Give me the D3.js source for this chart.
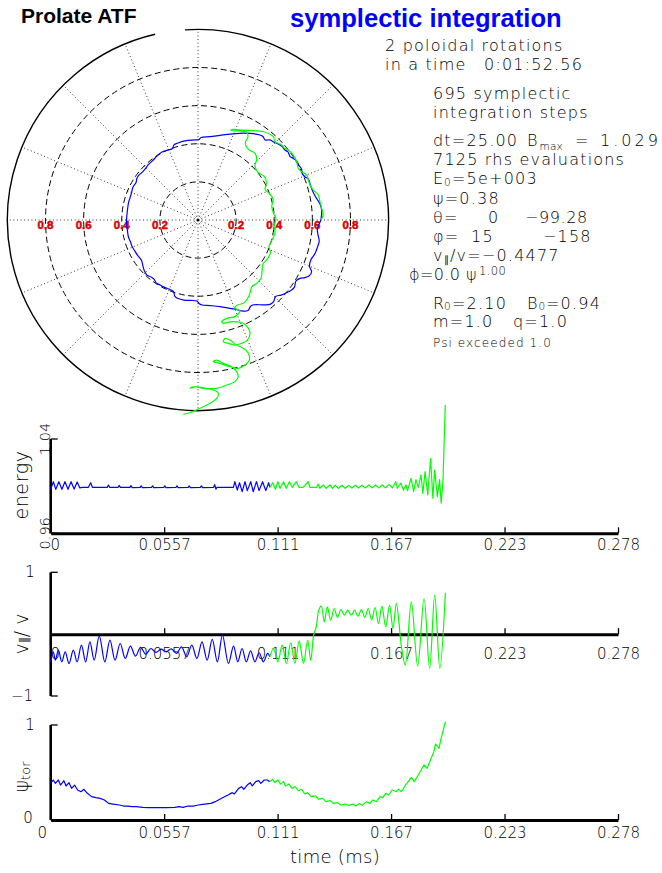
<!DOCTYPE html>
<html>
<head>
<meta charset="utf-8">
<script src="https://cdn.jsdelivr.net/npm/d3@7"></script>
<style>
  html, body { margin: 0; padding: 0; background: #fff; }
  svg { display: block; }
</style>
</head>
<body>
<svg id="chart" width="662" height="873"></svg>
<script>
// ---------- data ----------
const timeTicks = [0, 0.0557, 0.1114, 0.1671, 0.2228, 0.2785];
const timeTickLabels = ["0", "0.0557", "0.111", "0.167", "0.223", "0.278"];

// energy (normalised), [t (ms), E]
const energyBlue = [[0,0.9973],[0.0013,1.0038],[0.0025,0.9973],[0.0040,1.0038],[0.0055,0.9973],[0.0070,1.0038],[0.0085,0.9973],[0.0100,1.0038],[0.0115,0.9975],[0.0130,1.0035],[0.0143,0.9985],[0.0155,0.9990],[0.0185,0.9990],[0.0196,1.0029],[0.0205,0.9990],[0.0278,0.9990],[0.0283,1.0010],[0.0290,0.9990],[0.0331,0.9990],[0.0336,1.0006],[0.0342,0.9990],[0.0389,0.9990],[0.0394,1.0004],[0.0400,0.9988],[0.0439,0.9990],[0.0444,1.0003],[0.0450,0.9988],[0.0495,0.9990],[0.0500,1.0003],[0.0506,0.9988],[0.0555,0.9990],[0.0560,1.0002],[0.0566,0.9988],[0.0615,0.9990],[0.0620,1.0002],[0.0626,0.9988],[0.0675,0.9990],[0.0680,1.0002],[0.0686,0.9988],[0.0735,0.9990],[0.0740,1.0003],[0.0746,0.9988],[0.0800,0.9990],[0.0805,1.0013],[0.0811,0.9975],[0.0816,0.9990],[0.0897,0.9990],[0.0904,1.0038],[0.0916,0.9967],[0.0927,1.0029],[0.0940,0.9953],[0.0954,1.0038],[0.0965,0.9962],[0.0982,1.0038],[0.0994,0.9953],[0.1010,1.0038],[0.1023,0.9962],[0.1040,1.0038],[0.1056,0.9962],[0.1070,1.0029],[0.1076,0.9990]];
const energyGreen = [[0.1076,0.9990],[0.1090,1.0029],[0.1103,0.9973],[0.1115,1.0038],[0.1126,0.9982],[0.1143,1.0038],[0.1156,0.9982],[0.1172,1.0038],[0.1186,0.9990],[0.1206,1.0038],[0.1219,0.9990],[0.1239,0.9990],[0.1264,1.0038],[0.1272,0.9990],[0.1305,0.9990],[0.1313,1.0018],[0.1321,0.9982],[0.1338,1.0010],[0.1351,0.9982],[0.1371,1.0010],[0.1383,0.9982],[0.1396,1.0007],[0.1413,0.9982],[0.1429,1.0007],[0.1446,0.9982],[0.1462,1.0007],[0.1479,0.9985],[0.1495,1.0007],[0.1512,0.9985],[0.1528,1.0007],[0.1545,0.9985],[0.1562,1.0010],[0.1578,0.9985],[0.1595,1.0010],[0.1611,0.9985],[0.1628,1.0010],[0.1644,0.9985],[0.1661,1.0015],[0.1677,0.9985],[0.1694,1.0038],[0.1702,0.9982],[0.1719,1.0025],[0.1732,0.9967],[0.1744,1.0010],[0.1752,0.9962],[0.1769,1.0067],[0.1782,0.9953],[0.1793,1.0055],[0.1805,0.9990],[0.1818,1.0095],[0.1827,0.9939],[0.1838,1.0123],[0.1851,0.9925],[0.1865,1.0236],[0.1876,0.9897],[0.1885,1.0137],[0.1898,0.9911],[0.1909,1.0055],[0.1917,0.9855],[0.1926,1.0055],[0.1937,1.0689]];

// parallel velocity ratio v_par / v, [t (ms), value]
const vparBlue = [[0,-0.447],[0.00126,-0.285],[0.00230,-0.420],[0.00377,-0.258],[0.00544,-0.447],[0.00711,-0.285],[0.00900,-0.474],[0.01109,-0.258],[0.01297,-0.447],[0.01507,-0.178],[0.01716,-0.447],[0.01925,-0.124],[0.02134,-0.420],[0.02385,-0.032],[0.02657,-0.447],[0.02908,-0.097],[0.03159,-0.420],[0.03411,-0.151],[0.03662,-0.393],[0.03913,-0.194],[0.04164,-0.355],[0.04415,-0.215],[0.04666,-0.323],[0.04917,-0.232],[0.05168,-0.296],[0.05419,-0.242],[0.05670,-0.285],[0.05921,-0.237],[0.06173,-0.312],[0.06424,-0.205],[0.06675,-0.366],[0.06926,-0.178],[0.07177,-0.393],[0.07428,-0.124],[0.07679,-0.420],[0.07930,-0.086],[0.08181,-0.447],[0.08432,-0.016],[0.08725,-0.474],[0.08976,-0.194],[0.09186,-0.447],[0.09395,-0.232],[0.09604,-0.447],[0.09813,-0.269],[0.10023,-0.447],[0.10232,-0.301],[0.10441,-0.447],[0.10650,-0.312],[0.10755,-0.366]];
const vparGreen = [[0.10755,-0.366],[0.10943,-0.232],[0.11153,-0.447],[0.11362,-0.178],[0.11571,-0.474],[0.11780,-0.140],[0.11990,-0.474],[0.12199,-0.108],[0.12408,-0.474],[0.12617,-0.097],[0.12764,-0.420],[0.12910,-0.016],[0.13036,0.118],[0.13161,0.388],[0.13287,0.452],[0.13433,0.199],[0.13580,0.442],[0.13747,0.226],[0.13914,0.415],[0.14082,0.269],[0.14249,0.398],[0.14417,0.307],[0.14584,0.388],[0.14751,0.307],[0.14919,0.388],[0.15086,0.291],[0.15254,0.398],[0.15421,0.269],[0.15588,0.415],[0.15756,0.226],[0.15923,0.431],[0.16091,0.172],[0.16258,0.452],[0.16446,0.118],[0.16635,0.468],[0.16802,0.092],[0.16969,0.495],[0.17221,-0.205],[0.17409,-0.501],[0.17702,0.522],[0.18016,-0.517],[0.18329,0.576],[0.18601,-0.555],[0.18852,0.630],[0.19104,-0.555],[0.19376,0.668]];

// toroidal flux psi_tor, [t (ms), value]
const psiBlue = [[0,0.386],[0.00126,0.421],[0.00230,0.386],[0.00377,0.421],[0.00481,0.368],[0.00649,0.414],[0.00753,0.358],[0.00900,0.393],[0.01025,0.333],[0.01172,0.368],[0.01318,0.316],[0.01486,0.298],[0.01632,0.323],[0.01799,0.281],[0.02009,0.246],[0.02218,0.235],[0.02427,0.228],[0.02636,0.211],[0.02846,0.175],[0.03055,0.168],[0.03369,0.158],[0.03578,0.147],[0.03787,0.147],[0.03996,0.140],[0.04206,0.140],[0.04520,0.133],[0.04833,0.130],[0.05252,0.130],[0.05670,0.130],[0.06089,0.133],[0.06298,0.140],[0.06507,0.133],[0.06717,0.147],[0.07030,0.147],[0.07240,0.158],[0.07554,0.168],[0.07867,0.175],[0.08077,0.193],[0.08391,0.228],[0.08704,0.263],[0.08914,0.288],[0.09018,0.274],[0.09227,0.333],[0.09374,0.351],[0.09478,0.323],[0.09646,0.368],[0.09792,0.393],[0.09897,0.358],[0.10064,0.404],[0.10211,0.414],[0.10316,0.386],[0.10483,0.421],[0.10629,0.421],[0.10755,0.404]];
const psiGreen = [[0.10755,0.404],[0.10901,0.428],[0.11006,0.393],[0.11153,0.421],[0.11278,0.379],[0.11425,0.404],[0.11529,0.358],[0.11697,0.379],[0.11843,0.333],[0.11990,0.351],[0.12157,0.309],[0.12324,0.323],[0.12471,0.274],[0.12617,0.288],[0.12785,0.246],[0.12994,0.253],[0.13161,0.218],[0.13349,0.228],[0.13517,0.193],[0.13726,0.204],[0.13873,0.175],[0.14082,0.182],[0.14249,0.158],[0.14459,0.168],[0.14626,0.154],[0.14835,0.168],[0.14982,0.147],[0.15149,0.175],[0.15295,0.154],[0.15505,0.193],[0.15672,0.175],[0.15819,0.211],[0.15986,0.193],[0.16174,0.246],[0.16300,0.235],[0.16446,0.281],[0.16593,0.263],[0.16760,0.316],[0.16969,0.298],[0.17074,0.323],[0.17221,0.298],[0.17388,0.358],[0.17555,0.404],[0.17702,0.449],[0.17848,0.404],[0.18016,0.463],[0.18183,0.526],[0.18329,0.579],[0.18476,0.544],[0.18643,0.632],[0.18811,0.719],[0.18894,0.800],[0.19062,0.754],[0.19166,0.860],[0.19271,0.947],[0.19376,1.035]];

// orbit in the poloidal plane (normalised minor-radius coordinates), [x, y]
const orbitBlue = [[0.645,0.000],[0.649,0.052],[0.640,0.084],[0.624,0.110],[0.606,0.142],[0.597,0.163],[0.588,0.189],[0.579,0.215],[0.561,0.226],[0.548,0.241],[0.543,0.268],[0.530,0.286],[0.517,0.310],[0.498,0.324],[0.483,0.333],[0.472,0.357],[0.456,0.367],[0.441,0.386],[0.425,0.396],[0.395,0.411],[0.378,0.420],[0.352,0.420],[0.341,0.438],[0.325,0.446],[0.273,0.454],[0.220,0.455],[0.168,0.451],[0.115,0.444],[0.063,0.437],[0.016,0.433],[0.005,0.422],[-0.016,0.420],[-0.068,0.415],[-0.105,0.404],[-0.126,0.394],[-0.134,0.375],[-0.157,0.367],[-0.189,0.357],[-0.210,0.341],[-0.226,0.324],[-0.244,0.306],[-0.262,0.289],[-0.273,0.273],[-0.289,0.254],[-0.307,0.239],[-0.320,0.220],[-0.325,0.197],[-0.341,0.173],[-0.349,0.142],[-0.357,0.115],[-0.365,0.089],[-0.370,0.052],[-0.374,0.016],[-0.375,-0.021],[-0.370,-0.058],[-0.365,-0.089],[-0.354,-0.115],[-0.346,-0.139],[-0.331,-0.163],[-0.317,-0.186],[-0.296,-0.213],[-0.289,-0.241],[-0.281,-0.268],[-0.268,-0.289],[-0.247,-0.299],[-0.231,-0.310],[-0.218,-0.331],[-0.199,-0.341],[-0.178,-0.352],[-0.147,-0.365],[-0.129,-0.375],[-0.121,-0.401],[-0.105,-0.412],[-0.073,-0.420],[-0.037,-0.422],[-0.005,-0.425],[0.005,-0.438],[0.021,-0.446],[0.063,-0.449],[0.115,-0.454],[0.168,-0.464],[0.205,-0.470],[0.228,-0.477],[0.262,-0.475],[0.275,-0.454],[0.286,-0.446],[0.341,-0.445],[0.378,-0.443],[0.396,-0.430],[0.407,-0.401],[0.436,-0.394],[0.462,-0.383],[0.491,-0.367],[0.506,-0.352],[0.514,-0.320],[0.535,-0.306],[0.561,-0.302],[0.582,-0.294],[0.596,-0.273],[0.585,-0.241],[0.593,-0.207],[0.614,-0.176],[0.627,-0.142],[0.636,-0.110],[0.630,-0.079],[0.626,-0.047],[0.638,-0.016],[0.645,0.000]];
const orbitGreen = [[0.645,0.000],[0.657,0.026],[0.649,0.061],[0.640,0.096],[0.631,0.131],[0.605,0.157],[0.588,0.184],[0.579,0.210],[0.570,0.236],[0.544,0.253],[0.526,0.271],[0.518,0.306],[0.500,0.341],[0.474,0.367],[0.456,0.376],[0.439,0.394],[0.404,0.411],[0.395,0.437],[0.343,0.463],[0.273,0.470],[0.220,0.472],[0.184,0.475],[0.173,0.470],[0.210,0.467],[0.254,0.462],[0.262,0.436],[0.249,0.409],[0.254,0.383],[0.273,0.365],[0.299,0.350],[0.308,0.320],[0.299,0.283],[0.316,0.249],[0.349,0.228],[0.359,0.194],[0.352,0.160],[0.375,0.139],[0.394,0.108],[0.387,0.071],[0.396,0.037],[0.409,0.005],[0.399,-0.031],[0.404,-0.068],[0.388,-0.105],[0.373,-0.139],[0.380,-0.173],[0.362,-0.207],[0.341,-0.231],[0.336,-0.268],[0.331,-0.304],[0.310,-0.331],[0.283,-0.349],[0.275,-0.375],[0.265,-0.404],[0.238,-0.437],[0.206,-0.446],[0.194,-0.463],[0.220,-0.476],[0.194,-0.507],[0.151,-0.516],[0.124,-0.534],[0.133,-0.542],[0.168,-0.534],[0.203,-0.534],[0.238,-0.542],[0.264,-0.568],[0.273,-0.594],[0.259,-0.630],[0.229,-0.647],[0.194,-0.656],[0.159,-0.647],[0.133,-0.639],[0.142,-0.621],[0.168,-0.630],[0.203,-0.656],[0.238,-0.673],[0.264,-0.699],[0.269,-0.735],[0.247,-0.761],[0.211,-0.778],[0.168,-0.770],[0.115,-0.752],[0.080,-0.743],[0.098,-0.735],[0.133,-0.752],[0.177,-0.770],[0.203,-0.796],[0.211,-0.822],[0.194,-0.848],[0.151,-0.866],[0.098,-0.883],[0.046,-0.883],[-0.007,-0.875],[-0.042,-0.883],[-0.025,-0.875],[0.028,-0.883],[0.080,-0.892],[0.107,-0.909],[0.098,-0.936],[0.063,-0.962],[0.010,-0.988],[-0.042,-1.011],[-0.077,-1.019]];

const ringRadii = [0.2, 0.4, 0.6, 0.8];
const ringLabelValues = [-0.8, -0.6, -0.4, -0.2, 0.2, 0.4, 0.6, 0.8];
const spokeCount = 16;

// ---------- setup ----------
const svg = d3.select("#chart");
const thinFont = '"DejaVu Sans", "Liberation Sans", sans-serif';
const boldFont = '"Liberation Sans", Arial, Helvetica, sans-serif';
const BLUE = "#0000ff", GREEN = "#00ff00";

function label(x, y, str, size, opts = {}) {
  const t = svg.append("text")
    .attr("x", x).attr("y", y)
    .attr("font-family", opts.family || thinFont)
    .attr("font-weight", opts.weight || 300)
    .attr("font-size", size)
    .attr("fill", opts.fill || "#000")
    .attr("text-anchor", opts.anchor || "start")
    .text(str);
  if (opts.spacing !== undefined) t.attr("letter-spacing", opts.spacing);
  if (opts.baseline) t.attr("dominant-baseline", opts.baseline);
  return t;
}

// ---------- titles ----------
label(21, 23, "Prolate ATF", 21, { family: boldFont, weight: 700 });
label(290, 27, "symplectic integration", 25.6, { family: boldFont, weight: 700, fill: BLUE });

// ---------- info block ----------
const fs = 16, sp = 1.2, subFs = 10.5;
label(385, 51, "2 poloidal rotations", fs, { spacing: sp });
label(385, 69.5, "in a time", fs, { spacing: sp });
label(484, 69.5, "0:01:52.56", fs, { spacing: sp });
label(433, 98.5, "695 symplectic", fs, { spacing: sp });
label(433, 117.5, "integration steps", fs, { spacing: sp });
label(433, 146, "dt=25.00", fs, { spacing: sp });
label(527, 146, "B", fs);
label(539.5, 149.5, "max", subFs, { spacing: 0.2 });
label(575, 146, "=", fs);
label(600, 146, "1.029", fs, { spacing: 3 });
label(433, 165, "7125 rhs evaluations", fs, { spacing: sp });
label(433, 184, "E", fs);
label(444, 185.5, "0", subFs);
label(452, 184, "=5e+003", fs, { spacing: sp });
label(433, 203.5, "\u03c8=0.38", fs, { spacing: sp });
label(433, 223, "\u03b8=", fs, { spacing: sp });
label(488, 223, "0", fs, { spacing: sp });
label(525, 223, "\u221299.28", fs, { spacing: 0.6 });
label(433, 242, "\u03c6=", fs, { spacing: sp });
label(471, 242, "15", fs, { spacing: sp });
label(543, 242, "\u2212158", fs, { spacing: sp });
label(433, 261, "v", fs);
label(443.5, 263, "\u2225", subFs - 1);
label(450, 261, "/v=\u22120.4477", fs, { spacing: sp });
label(409, 280, "\u03d5=0.0", fs, { spacing: 0.4 });
label(466, 280, "\u03c8", fs);
label(479, 274.5, "1.00", subFs + 1, { spacing: 0.4 });
label(433, 308.5, "R", fs);
label(444, 310, "0", subFs);
label(452, 308.5, "=2.10", fs, { spacing: sp });
label(527, 308.5, "B", fs);
label(538.5, 310, "0", subFs);
label(546, 308.5, "=0.94", fs, { spacing: sp });
label(433, 327, "m=1.0", fs, { spacing: sp });
label(513, 327, "q=1.0", fs, { spacing: sp });
label(433, 347, "Psi exceeded 1.0", 12, { spacing: 1.1 });

// ---------- poloidal cross-section ----------
const cx = 198, cy = 220, R = 190.6;
const px = d3.scaleLinear().domain([-1, 1]).range([cx - R, cx + R]);
const py = d3.scaleLinear().domain([-1, 1]).range([cy + R, cy - R]);
const pr = d3.scaleLinear().domain([0, 1]).range([0, R]);

const polar = svg.append("g");
// radial spokes
d3.range(spokeCount).forEach(k => {
  const a = k * 2 * Math.PI / spokeCount;
  polar.append("line")
    .attr("x1", px(0)).attr("y1", py(0))
    .attr("x2", px(Math.cos(a))).attr("y2", py(Math.sin(a)))
    .attr("stroke", "#333").attr("stroke-width", 1)
    .attr("stroke-dasharray", "1,2.6");
});
// dashed flux rings
polar.selectAll("circle.ring").data(ringRadii).join("circle")
  .attr("class", "ring")
  .attr("cx", px(0)).attr("cy", py(0)).attr("r", d => pr(d))
  .attr("fill", "none").attr("stroke", "#000").attr("stroke-width", 1)
  .attr("stroke-dasharray", "6,3.5");
// outer boundary (open at the top)
const bnd = d3.path();
const a0 = -93.9 * Math.PI / 180, a1 = 257 * Math.PI / 180;
bnd.moveTo(cx + R * Math.cos(a0), cy + R * Math.sin(a0));
bnd.arc(cx, cy, R, a0, a1, false);
polar.append("path").attr("d", bnd.toString())
  .attr("fill", "none").attr("stroke", "#000").attr("stroke-width", 1.4);
// centre dot
polar.append("circle").attr("cx", px(0)).attr("cy", py(0)).attr("r", 1.6).attr("fill", "#000");
// radius labels
polar.selectAll("text.rl").data(ringLabelValues).join("text")
  .attr("class", "rl")
  .attr("x", d => px(d)).attr("y", py(0) + 8.5)
  .attr("text-anchor", "middle")
  .attr("font-family", boldFont).attr("font-weight", 700).attr("font-size", 11.5)
  .attr("fill", "#ff0000").attr("stroke", "#b00000").attr("stroke-width", 0.5)
  .text(d => Math.abs(d).toFixed(1));
// orbit
const orbitLine = d3.line().x(d => px(d[0])).y(d => py(d[1])).curve(d3.curveCatmullRom.alpha(0.5));
polar.append("path").attr("d", orbitLine(orbitBlue))
  .attr("fill", "none").attr("stroke", BLUE).attr("stroke-width", 1.2);
polar.append("path").attr("d", orbitLine(orbitGreen))
  .attr("fill", "none").attr("stroke", GREEN).attr("stroke-width", 1.2);

// ---------- time traces ----------
const x = d3.scaleLinear().domain([0, 0.2785]).range([50.7, 618]);

function timeAxis(yPos, pad, zeroShift) {
  const g = svg.append("g").attr("transform", `translate(0,${yPos})`)
    .call(d3.axisBottom(x).tickValues(timeTicks)
      .tickFormat((d, i) => timeTickLabels[i])
      .tickSizeInner(-6).tickSizeOuter(0).tickPadding(pad));
  g.select(".domain").attr("stroke", "#000").attr("stroke-width", 3);
  g.selectAll(".tick line").attr("stroke", "#000").attr("stroke-width", 1.3);
  g.selectAll(".tick text")
    .attr("font-family", thinFont).attr("font-weight", 300)
    .attr("font-size", 15).attr("fill", "#000");
  g.selectAll(".tick text").filter((d, i) => i === 0).attr("dx", zeroShift);
  return g;
}

function leftAxis(y, y0, y1) {
  svg.append("line").attr("x1", x(0)).attr("x2", x(0))
    .attr("y1", y(y0)).attr("y2", y(y1))
    .attr("stroke", "#000").attr("stroke-width", 2.6);
  [y0, y1].forEach(v => svg.append("line")
    .attr("x1", x(0)).attr("x2", x(0) + 7)
    .attr("y1", y(v)).attr("y2", y(v))
    .attr("stroke", "#000").attr("stroke-width", 1.3));
}

function rotLabel(cxp, cyp, size) {
  return svg.append("text")
    .attr("transform", `translate(${cxp},${cyp}) rotate(-90)`)
    .attr("text-anchor", "middle").attr("dominant-baseline", "central")
    .attr("font-family", thinFont).attr("font-weight", 300)
    .attr("font-size", size).attr("fill", "#000");
}

function trace(data, y, color, curve) {
  const ln = d3.line().x(d => x(d[0])).y(d => y(d[1])).curve(curve);
  svg.append("path").attr("d", ln(data))
    .attr("fill", "none").attr("stroke", color).attr("stroke-width", 1.2)
    .attr("stroke-linejoin", "round");
}

// energy panel
const yE = d3.scaleLinear().domain([0.96, 1.04]).range([533.3, 439]);
leftAxis(yE, 0.96, 1.04);
timeAxis(yE(0.96), 6.5, 4);
rotLabel(44.5, yE(1.04), 14.5).text("1.04");
rotLabel(44.5, yE(0.96), 14.5).text("0.96");
rotLabel(21, 485, 19).attr("letter-spacing", 0.6).text("energy");
trace(energyBlue, yE, BLUE, d3.curveLinear);
trace(energyGreen, yE, GREEN, d3.curveLinear);

// v_par / v panel
const yV = d3.scaleLinear().domain([-1, 1]).range([696, 572.3]);
leftAxis(yV, -1, 1);
timeAxis(yV(0), 14, 4);
label(30, yV(1), "1", 15, { anchor: "middle", baseline: "central" });
label(22, yV(-1), "\u22121", 15, { anchor: "middle", baseline: "central" });
{
  const t = rotLabel(21, 634, 19);
  t.append("tspan").text("v");
  t.append("tspan").attr("font-size", 12).attr("dy", 3).text("\u2225");
  t.append("tspan").attr("dy", -3).text("/ v");
}
trace(vparBlue, yV, BLUE, d3.curveCatmullRom.alpha(0.5));
trace(vparGreen, yV, GREEN, d3.curveCatmullRom.alpha(0.5));

// psi_tor panel
const yP = d3.scaleLinear().domain([0, 1]).range([820, 725]);
leftAxis(yP, 0, 1);
timeAxis(yP(0), 7.5, -9);
label(30, yP(1), "1", 15, { anchor: "middle", baseline: "central" });
label(28, yP(0) - 2, "0", 15, { anchor: "middle", baseline: "central" });
{
  const t = rotLabel(21, 777, 19);
  t.append("tspan").text("\u03c8");
  t.append("tspan").attr("font-size", 13).attr("dy", 4).text("tor");
}
label(335, 863, "time (ms)", 18, { anchor: "middle", spacing: 0.3 });
trace(psiBlue, yP, BLUE, d3.curveLinear);
trace(psiGreen, yP, GREEN, d3.curveLinear);
</script>
</body>
</html>
